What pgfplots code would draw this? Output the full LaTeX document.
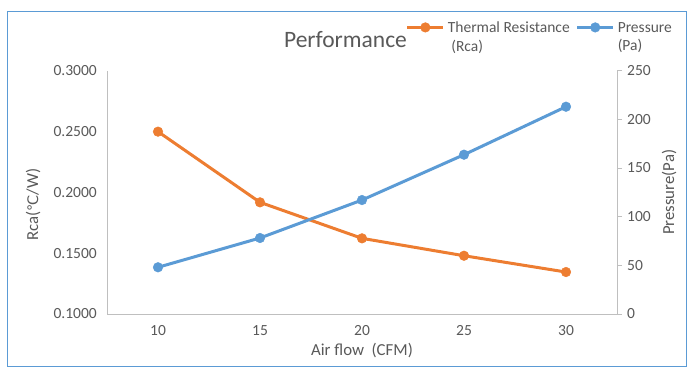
\documentclass[border=0pt]{standalone}
\usepackage{pgfplots}
\pgfplotsset{compat=1.18}
\usepackage{fontspec}
\setmainfont{Carlito}
\newfontfamily\djv{DejaVu Sans}
\definecolor{cOrange}{HTML}{ED7D31}
\definecolor{cBlue}{HTML}{5B9BD5}
\definecolor{cAxis}{HTML}{BFBFBF}
\definecolor{cText}{HTML}{595959}
\definecolor{cBorder}{HTML}{5B9BD5}
\pgfplotsset{
  common/.style={
    at={(107bp,62bp)}, anchor=south west,
    scale only axis, width=510bp, height=243.3bp,
    xmin=-0.5, xmax=4.5,
    axis line style={cAxis, line width=0.9bp},
    tick label style={font=\fontsize{15.5bp}{18bp}\selectfont, text=cText},
    label style={font=\fontsize{16.8bp}{20bp}\selectfont, text=cText},
    /pgf/number format/assume math mode=true,
    clip=false,
  },
  every axis title shift=0pt,
}
\begin{document}
\begin{tikzpicture}[x=1bp,y=1bp]
\path (0,0) rectangle (697,376);
\draw[cBorder, line width=1bp] (7,10) rectangle (686,364);
\begin{axis}[common,
  ymin=0.1, ymax=0.3,
  xtick={0,1,2,3,4}, xticklabels={10,15,20,25,30},
  ytick={0.1,0.15,0.2,0.25,0.3},
  yticklabel style={/pgf/number format/fixed, /pgf/number format/fixed zerofill, /pgf/number format/precision=4, anchor=east, inner sep=0pt, xshift=-10bp},
  axis x line*=bottom, axis y line*=left,
  major tick length=0pt,
  xticklabel style={anchor=north, inner sep=0pt, yshift=-11bp},
  xlabel={Air flow\ \ (CFM)},
  xlabel style={at={(axis description cs:0.5,-0.169)}, anchor=base},
  ylabel={Rca({\djv\fontsize{14.5bp}{17bp}\selectfont ℃}/W)},
  ylabel style={at={(axis description cs:-0.145,0.45)}, anchor=center},
  title={Performance},
  title style={at={(axis description cs:0.4676,1.0974)}, anchor=base, font=\fontsize{23.5bp}{28bp}\selectfont, text=cText},
]
\addplot[cOrange, line width=3bp, mark=*, mark size=4.8bp, mark options={solid, fill=cOrange, draw=cOrange, line width=0.5bp}]
  coordinates {(0,0.2499) (1,0.1918) (2,0.1622) (3,0.1479) (4,0.1345)};
\end{axis}
\begin{axis}[common,
  ymin=0, ymax=250,
  ytick={0,50,100,150,200,250},
  axis y line*=right, axis x line=none,
  tick align=outside, major tick length=5bp,
  ytick style={cAxis, line width=0.9bp},
  yticklabel style={anchor=west, inner sep=0pt, xshift=5bp},
  ylabel={Pressure(Pa)},
  ylabel style={at={(axis description cs:1.102,0.5)}, anchor=center},
  legend columns=2,
  legend style={at={(axis description cs:0.586,1.2)}, anchor=north west, draw=none, fill=none,
    inner sep=0pt, outer sep=0pt,
    font=\fontsize{15.5bp}{18.5bp}\selectfont, text=cText,
    nodes={inner sep=0pt, text depth=0pt},
    /tikz/every odd column/.style={column sep=3bp},
    /tikz/every even column/.style={column sep=6bp},
  },
  legend cell align=left,
  legend image code/.code={\draw[#1, mark repeat=2, mark phase=2] plot coordinates {(0bp,0bp) (18bp,0bp) (36bp,0bp)};},
]
\addlegendimage{cOrange, line width=3bp, mark=*, mark size=4.8bp, mark options={solid, fill=cOrange, draw=cOrange, line width=0.5bp}}
\addlegendentry{\vtop{\hbox{Thermal Resistance}\hbox{\ (Rca)}}}
\addplot[cBlue, line width=3bp, mark=*, mark size=4.8bp, mark options={solid, fill=cBlue, draw=cBlue, line width=0.5bp}]
  coordinates {(0,48.0) (1,78.1) (2,117.1) (3,163.7) (4,213.0)};
\addlegendentry{\vtop{\hbox{Pressure}\hbox{(Pa)}}}
\end{axis}
\end{tikzpicture}
\end{document}
